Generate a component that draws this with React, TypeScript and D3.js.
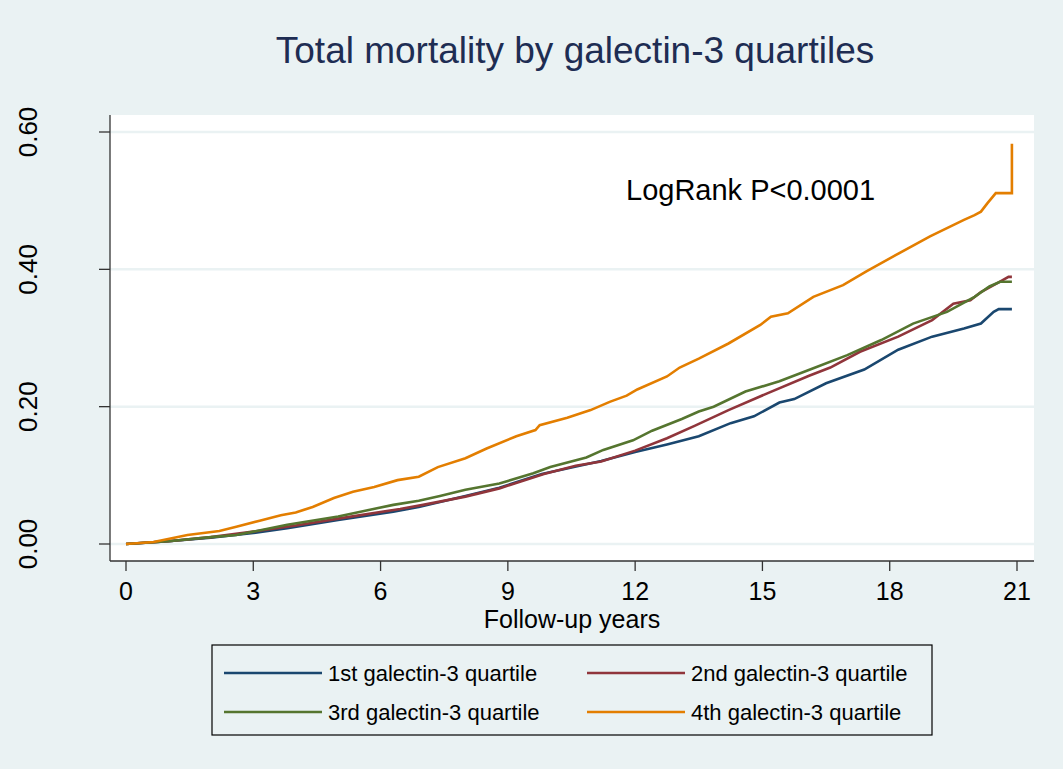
import React from "react";
import * as d3 from "d3";

const title = "Total mortality by galectin-3 quartiles";
const xLabel = "Follow-up years";
const annotation = "LogRank P<0.0001";
const xTicks = [0, 3, 6, 9, 12, 15, 18, 21];
const yTicks = [0, 0.2, 0.4, 0.6];
const seriesNames = [
  "1st galectin-3 quartile",
  "2nd galectin-3 quartile",
  "3rd galectin-3 quartile",
  "4th galectin-3 quartile",
];
const seriesColors = ["#1a476f", "#90353b", "#55752f", "#e37e00"];

const q1Times = [0, 1, 2, 3, 3.8, 5, 6.3, 6.9, 8, 8.8, 9.8, 11.2, 12, 12.75, 13.5, 14.25, 14.8, 15.4, 15.75, 16.5, 17.4, 18.2, 19, 19.75, 20.15, 20.45, 20.57, 20.88];
const q1Risk = [0, 0.004, 0.009, 0.016, 0.023, 0.035, 0.047, 0.054, 0.07, 0.082, 0.102, 0.121, 0.134, 0.145, 0.157, 0.176, 0.186, 0.206, 0.211, 0.234, 0.254, 0.283, 0.302, 0.314, 0.321, 0.338, 0.342, 0.342];

const q2Times = [0, 1, 2, 3, 4, 5, 6.46, 7, 8, 8.8, 9.85, 10.6, 11.2, 12, 12.75, 13.4, 14.2, 15.1, 16.1, 16.6, 17.3, 18.2, 19, 19.5, 19.9, 20.15, 20.45, 20.6, 20.8, 20.88];
const q2Risk = [0, 0.004, 0.01, 0.018, 0.027, 0.037, 0.051, 0.057, 0.069, 0.081, 0.102, 0.114, 0.12, 0.136, 0.154, 0.172, 0.195, 0.219, 0.245, 0.257, 0.28, 0.302, 0.326, 0.35, 0.355, 0.367, 0.377, 0.382, 0.389, 0.389];

const q3Times = [0, 1, 2, 2.6, 3.8, 5, 5.75, 6.3, 6.9, 7.4, 8, 8.8, 9.6, 10, 10.85, 11.25, 11.95, 12.4, 13.1, 13.5, 13.85, 14.6, 15.4, 16.2, 17, 17.8, 18.55, 19.35, 20, 20.35, 20.6, 20.88];
const q3Risk = [0, 0.004, 0.01, 0.013, 0.028, 0.04, 0.05, 0.057, 0.063, 0.07, 0.079, 0.088, 0.103, 0.112, 0.126, 0.137, 0.151, 0.165, 0.182, 0.193, 0.2, 0.222, 0.237, 0.256, 0.275, 0.297, 0.321, 0.338, 0.36, 0.375, 0.382, 0.382];

const q4Times = [0, 0.65, 1.45, 2.2, 2.6, 3.15, 3.65, 4.0, 4.4, 4.9, 5.35, 5.85, 6.4, 6.9, 7.35, 8.0, 8.5, 9.2, 9.65, 9.75, 10.4, 10.95, 11.4, 11.8, 12.05, 12.75, 13.05, 13.5, 14.2, 14.95, 15.2, 15.6, 16.2, 16.9, 17.45, 18.15, 18.95, 19.75, 20.0, 20.15, 20.3, 20.5, 20.88, 20.88];
const q4Risk = [0, 0.003, 0.013, 0.019, 0.025, 0.034, 0.042, 0.046, 0.054, 0.067, 0.076, 0.083, 0.093, 0.098, 0.112, 0.125, 0.139, 0.157, 0.166, 0.173, 0.184, 0.195, 0.207, 0.216, 0.225, 0.244, 0.257, 0.27, 0.292, 0.319, 0.331, 0.336, 0.36, 0.377, 0.397, 0.421, 0.448, 0.472, 0.479, 0.484, 0.496, 0.511, 0.511, 0.583];

const seriesTimes = [q1Times, q2Times, q3Times, q4Times];
const seriesRisk = [q1Risk, q2Risk, q3Risk, q4Risk];

const W = 1063;
const H = 769;
const BG = "#eaf2f3";
const FONT = "'Liberation Sans', Arial, Helvetica, sans-serif";

export default function App() {
  const plot = { left: 110, right: 1034, top: 115, bottom: 561 };
  const x = d3.scaleLinear().domain([0, 21]).range([126, 1017]);
  const y = d3.scaleLinear().domain([0, 0.6]).range([544, 132]);
  const line = d3
    .line<[number, number]>()
    .x((d) => x(d[0]))
    .y((d) => y(d[1]))
    .curve(d3.curveLinear);

  const legendItems = seriesNames.map((name, i) => ({
    name,
    color: seriesColors[i],
    col: i % 2,
    row: Math.floor(i / 2),
  }));
  const legendColX = [224, 587];
  const legendRowY = [673, 712];

  return (
    <svg
      width={W}
      height={H}
      style={{ position: "absolute", left: 0, top: 0, display: "block" }}
      fontFamily={FONT}
    >
      <rect x={0} y={0} width={W} height={H} fill={BG} />
      <rect
        x={plot.left}
        y={plot.top}
        width={plot.right - plot.left}
        height={plot.bottom - plot.top}
        fill="#ffffff"
      />
      {yTicks.map((t) => (
        <line
          key={"g" + t}
          x1={plot.left}
          x2={plot.right}
          y1={y(t)}
          y2={y(t)}
          stroke={BG}
          strokeWidth={2.5}
        />
      ))}
      {seriesTimes.map((ts, i) => {
        const pts: [number, number][] = ts.map((t, j) => [t, seriesRisk[i][j]]);
        return (
          <path
            key={"s" + i}
            d={line(pts) || ""}
            fill="none"
            stroke={seriesColors[i]}
            strokeWidth={2.6}
            strokeLinejoin="miter"
          />
        );
      })}
      {/* axes */}
      <line x1={plot.left} x2={plot.left} y1={plot.top} y2={plot.bottom} stroke="#333" strokeWidth={1.3} />
      <line x1={plot.left} x2={plot.right} y1={plot.bottom} y2={plot.bottom} stroke="#333" strokeWidth={1.3} />
      {yTicks.map((t) => (
        <g key={"yt" + t}>
          <line x1={plot.left - 11} x2={plot.left} y1={y(t)} y2={y(t)} stroke="#333" strokeWidth={1.3} />
          <text
            transform={`translate(37,${y(t)}) rotate(-90)`}
            textAnchor="middle"
            fontSize={26}
            fill="#000"
          >
            {d3.format(".2f")(t)}
          </text>
        </g>
      ))}
      {xTicks.map((t) => (
        <g key={"xt" + t}>
          <line x1={x(t)} x2={x(t)} y1={plot.bottom} y2={plot.bottom + 10} stroke="#333" strokeWidth={1.3} />
          <text x={x(t)} y={600} textAnchor="middle" fontSize={25} fill="#000">
            {t}
          </text>
        </g>
      ))}
      <text x={572} y={628} textAnchor="middle" fontSize={25} fill="#000">
        {xLabel}
      </text>
      <text x={575} y={63} textAnchor="middle" fontSize={37} fill="#1e2d53">
        {title}
      </text>
      <text x={626} y={200} fontSize={29} fill="#000">
        {annotation}
      </text>
      {/* legend */}
      <rect x={212} y={645} width={720} height={90} fill={BG} stroke="#000" strokeWidth={1.2} />
      {legendItems.map((it) => (
        <g key={it.name}>
          <line
            x1={legendColX[it.col]}
            x2={legendColX[it.col] + 98}
            y1={legendRowY[it.row]}
            y2={legendRowY[it.row]}
            stroke={it.color}
            strokeWidth={2.6}
          />
          <text
            x={legendColX[it.col] + 104}
            y={legendRowY[it.row] + 7.7}
            fontSize={22}
            fill="#000"
          >
            {it.name}
          </text>
        </g>
      ))}
    </svg>
  );
}
